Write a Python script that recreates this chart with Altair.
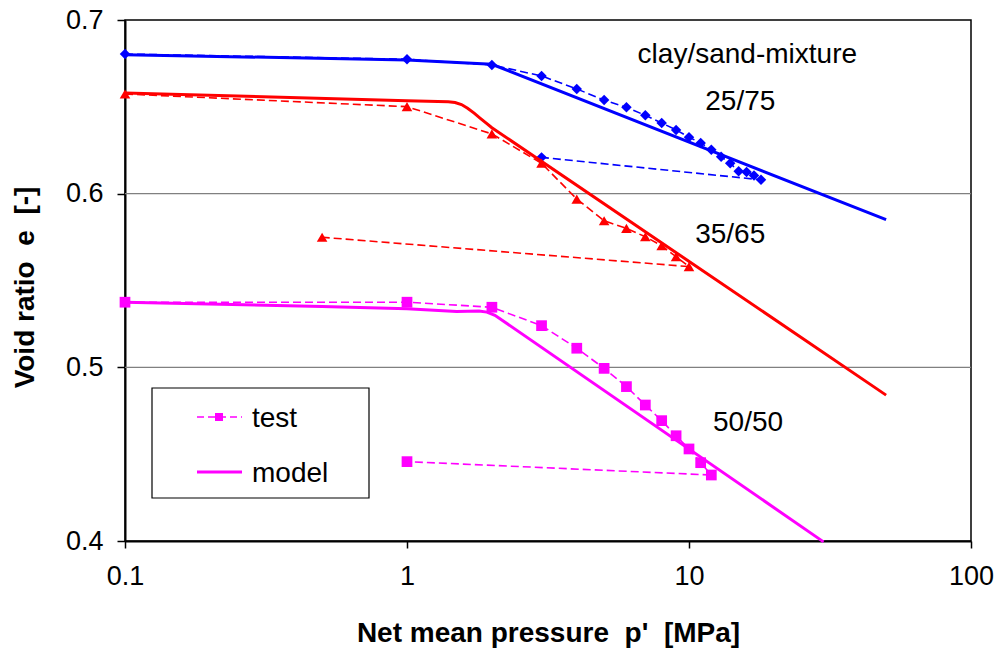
import altair as alt
import pandas as pd

# ---- measured compression tests (net mean pressure p' [MPa], void ratio e) ----
mixes = ["25/75", "35/65", "50/50"]
colors = ["#0000ff", "#ff0000", "#ff00ff"]
shapes = ["diamond", "triangle-up", "square"]
marker_sizes = [110, 115, 65]

test_p_2575 = [0.1, 1, 2, 3, 4, 5, 6, 7, 8, 9, 10, 11, 12, 13, 14, 15, 16, 17, 18, 3]
test_e_2575 = [0.6804, 0.6774, 0.6741, 0.6678, 0.6603, 0.6539, 0.6497, 0.6451, 0.6407,
               0.6367, 0.6325, 0.6292, 0.6253, 0.6213, 0.6175, 0.6129, 0.6125, 0.6104,
               0.6080, 0.6209]

test_p_3565 = [0.1, 1, 2, 3, 4, 5, 6, 7, 8, 9, 10, 0.5]
test_e_3565 = [0.6574, 0.6501, 0.6344, 0.6175, 0.5969, 0.5844, 0.5800, 0.5752, 0.5700,
               0.5637, 0.5580, 0.5749]

test_p_5050 = [0.1, 1, 2, 3, 4, 5, 6, 7, 8, 9, 10, 11, 12, 1]
test_e_5050 = [0.5375, 0.5375, 0.5346, 0.5240, 0.5110, 0.4994, 0.4889, 0.4783, 0.4693,
               0.4606, 0.4530, 0.4451, 0.4380, 0.4457]

# ---- model curves ----
model_p_2575 = [0.1, 1, 2, 50]
model_e_2575 = [0.6800, 0.6770, 0.6745, 0.5850]

model_p_3565 = [0.1, 1, 1.4, 1.48, 1.56, 1.64, 1.73, 1.82, 1.91, 2, 50]
model_e_3565 = [0.6580, 0.6535, 0.6529, 0.6525, 0.6513, 0.6492, 0.6464, 0.6434, 0.6406,
                0.6380, 0.4840]

model_p_5050 = [0.1, 0.5, 1, 1.5, 1.8, 1.92, 2.05, 30]
model_e_5050 = [0.5375, 0.5350, 0.5338, 0.5322, 0.5324, 0.5318, 0.5300, 0.3995]

# ---- text annotations ----
label_text = ["clay/sand-mixture", "25/75", "35/65", "50/50"]
label_p = [16.1, 15.2, 14.0, 16.2]
label_e = [0.6751, 0.6482, 0.5714, 0.4635]

grid_e = [0.5, 0.6]
tick_p = [0.1, 1, 10, 100]
tick_e = [0.4, 0.5, 0.6, 0.7]


def frame(mix, p, e):
    return pd.DataFrame({"mix": mix, "p": p, "e": e, "seq": list(range(len(p)))})


tests = pd.concat([
    frame("25/75", test_p_2575, test_e_2575),
    frame("35/65", test_p_3565, test_e_3565),
    frame("50/50", test_p_5050, test_e_5050),
])
models = pd.concat([
    frame("25/75", model_p_2575, model_e_2575),
    frame("35/65", model_p_3565, model_e_3565),
    frame("50/50", model_p_5050, model_e_5050),
])
labels = pd.DataFrame({"text": label_text, "p": label_p, "e": label_e})
grid = pd.DataFrame({"e": grid_e})

FONT = "Liberation Sans"

x_enc = alt.X(
    "p:Q",
    scale=alt.Scale(type="log", domain=[0.1, 100], nice=False),
    axis=alt.Axis(
        values=tick_p, format="~g", grid=False, labelFlush=False,
        title="Net mean pressure\u00a0\u00a0p'\u00a0\u00a0[MPa]",
        titleFont=FONT, titleFontSize=28, titleFontWeight="bold", titleColor="black",
        titleX=423, titleY=100, titleAlign="center", titleBaseline="alphabetic",
        titleAnchor="middle",
        labelFont=FONT, labelFontSize=27, labelColor="black", labelPadding=15,
        tickSize=7, tickColor="black", tickWidth=1.5,
        domainColor="black", domainWidth=2,
    ),
)
y_enc = alt.Y(
    "e:Q",
    scale=alt.Scale(domain=[0.4, 0.7], nice=False, zero=False),
    axis=alt.Axis(
        values=tick_e, format=".1f", grid=False, labelFlush=False,
        title="Void ratio\u00a0\u00a0e\u00a0\u00a0[-]",
        titleFont=FONT, titleFontSize=28, titleFontWeight="bold", titleColor="black",
        titleAngle=270, titleX=-92, titleY=267, titleAlign="center",
        titleBaseline="alphabetic", titleAnchor="middle",
        labelFont=FONT, labelFontSize=27, labelColor="black", labelPadding=14,
        tickSize=8, tickColor="black", tickWidth=1.5,
        domainColor="black", domainWidth=2,
    ),
)
color_enc = alt.Color("mix:N", scale=alt.Scale(domain=mixes, range=colors), legend=None)
shape_enc = alt.Shape("mix:N", scale=alt.Scale(domain=mixes, range=shapes), legend=None)
size_enc = alt.Size("mix:N", scale=alt.Scale(domain=mixes, range=marker_sizes), legend=None)

gridlines = alt.Chart(grid).mark_rule(color="#808080", strokeWidth=1.2).encode(y=y_enc)

test_lines = alt.Chart(tests).mark_line(strokeWidth=1.6, strokeDash=[8, 4]).encode(
    x=x_enc, y=y_enc, color=color_enc, detail="mix:N", order="seq:Q"
)
test_points = alt.Chart(tests).mark_point(filled=True, opacity=1).encode(
    x=x_enc, y=y_enc, color=color_enc, shape=shape_enc, size=size_enc
)
model_lines = alt.Chart(models).mark_line(strokeWidth=3).encode(
    x=x_enc, y=y_enc, color=color_enc, detail="mix:N", order="seq:Q"
)
annotations = alt.Chart(labels).mark_text(
    font=FONT, fontSize=28, color="black", align="center", baseline="alphabetic"
).encode(x=x_enc, y=y_enc, text="text:N")

# legend box with a dashed "test" entry and a solid "model" entry
one = pd.DataFrame({"k": [0]})
legend_box = alt.Chart(one).mark_rect(fill="white", stroke="black", strokeWidth=1.2).encode(
    x=alt.value(27), x2=alt.value(244), y=alt.value(368), y2=alt.value(478)
)
legend_test_line = alt.Chart(one).mark_rule(color="#ff00ff", strokeWidth=1.6, strokeDash=[7, 4]).encode(
    x=alt.value(72), x2=alt.value(117), y=alt.value(397)
)
legend_test_mark = alt.Chart(one).mark_point(
    shape="square", filled=True, opacity=1, size=65, color="#ff00ff"
).encode(x=alt.value(94), y=alt.value(397))
legend_model_line = alt.Chart(one).mark_rule(color="#ff00ff", strokeWidth=3).encode(
    x=alt.value(72), x2=alt.value(117), y=alt.value(452)
)
legend_text_style = dict(font=FONT, fontSize=28, color="black", align="left", baseline="alphabetic")
legend_test_text = alt.Chart(one).mark_text(text="test", **legend_text_style).encode(
    x=alt.value(127), y=alt.value(407)
)
legend_model_text = alt.Chart(one).mark_text(text="model", **legend_text_style).encode(
    x=alt.value(127), y=alt.value(462)
)

chart = alt.layer(
    gridlines, test_lines, test_points, model_lines, annotations,
    legend_box, legend_test_line, legend_test_mark, legend_model_line,
    legend_test_text, legend_model_text,
).properties(
    width=846, height=521,
    padding={"left": 125, "top": 20, "right": 29, "bottom": 109},
    autosize="none", background="white",
).configure_view(stroke="black", strokeWidth=1.5)

chart.save("out.html", embed_options={"renderer": "svg", "actions": False})
